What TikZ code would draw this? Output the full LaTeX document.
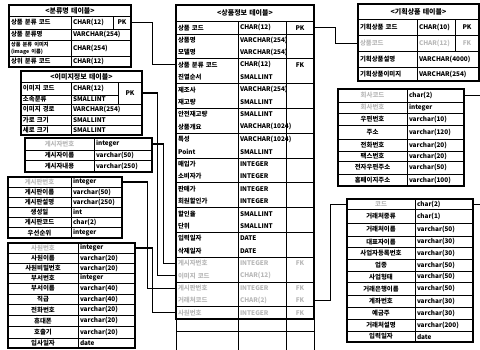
\documentclass[tikz,border=0pt]{standalone}
\usepackage{fontspec}
\setmainfont{Noto Sans CJK KR}
\newcommand\fnt[1]{\textcolor{gray!55}{#1}}
\newcommand\tcell[7]{%
  \pgfmathsetmacro\tcw{#4-#2-4}\pgfmathsetmacro\tch{#5-#3}%
  \node[cell, text width=\tcw pt, align=#6, minimum height=\tch pt] (#1) at ({(#2+#4)/2},{(#3+#5)/2}) {#7};}
\tikzset{
  cell/.style={draw, line width=0.8pt, inner xsep=2pt, inner ysep=0pt, font=\fontsize{6.4}{7}\selectfont\bfseries},
  frame/.style={draw, line width=1.5pt},
  conn/.style={draw, line width=1.1pt}
}
\begin{document}
\begin{tikzpicture}[x=1pt, y=-1pt]
\useasboundingbox (0,0) rectangle (480,349);
\fill[white] (0,0) rectangle (480,349);

% ---------- T1 <분류명 테이블>
\tcell{t1t}{9}{5}{131}{16}{center}{\fontsize{7}{8}\selectfont <분류명 테이블>}
\tcell{t1l1}{9}{16}{71}{29}{left}{상품 분류 코드}
\tcell{t1y1}{71}{16}{113}{29}{left}{CHAR(12)}
\tcell{t1k1}{113}{16}{131}{29}{center}{PK}
\tcell{t1l2}{9}{29}{71}{40}{left}{상품 분류명}
\tcell{t1y2}{71}{29}{131}{40}{left}{VARCHAR(254)}
\tcell{t1l3}{9}{40}{71}{56}{left}{\fontsize{5.2}{5.8}\selectfont 상품 분류 이미지\\(image 이름)}
\tcell{t1y3}{71}{40}{131}{56}{left}{CHAR(254)}
\tcell{t1l4}{9}{56}{71}{67}{left}{상위 분류 코드}
\tcell{t1y4}{71}{56}{131}{67}{left}{CHAR(12)}
\draw[frame] (9,5) rectangle (131,67);

% ---------- T2 <이미지정보 테이블>
\tcell{t2t}{21}{71}{142}{82}{center}{\fontsize{7}{8}\selectfont <이미지정보 테이블>}
\tcell{t2l1}{21}{82}{71}{95}{left}{이미지 코드}
\tcell{t2y1}{71}{82}{118}{95}{left}{CHAR(12)}
\tcell{t2l2}{21}{95}{71}{104}{left}{소속분류}
\tcell{t2y2}{71}{95}{118}{104}{left}{SMALLINT}
\tcell{t2k}{118}{82}{142}{104}{center}{PK}
\tcell{t2l3}{21}{104}{71}{115}{left}{이미지 경로}
\tcell{t2y3}{71}{104}{142}{115}{left}{VARCHAR(254)}
\tcell{t2l4}{21}{115}{71}{125}{left}{가로 크기}
\tcell{t2y4}{71}{115}{142}{125}{left}{SMALLINT}
\tcell{t2l5}{21}{125}{71}{135}{left}{세로 크기}
\tcell{t2y5}{71}{125}{142}{135}{left}{SMALLINT}
\draw[frame] (21,71) rectangle (142,135);

% ---------- T3
\foreach \n/\a/\b/\lab/\typ in {1/138/150/\fnt{게시자번호}/integer, 2/150/160.5/게시자이름/varchar(50), 3/160.5/172/게시자내용/varchar(250)}{
  \tcell{t3l\n}{25}{\a}{94}{\b}{center}{\lab}
  \tcell{t3y\n}{94}{\a}{152}{\b}{left}{\typ}
}
\draw[frame] (25,138) rectangle (152,172);

% ---------- T4
\foreach \n/\a/\b/\lab/\typ in {1/177/187/\fnt{게시판번호}/integer, 2/187/197/게시판이름/varchar(50), 3/197/207/게시판설명/varchar(250), 4/207/217.5/생성일/int, 5/217.5/227.5/게시판코드/char(2), 6/227.5/238/우선순위/integer}{
  \tcell{t4l\n}{8}{\a}{71}{\b}{center}{\lab}
  \tcell{t4y\n}{71}{\a}{122}{\b}{left}{\typ}
}
\draw[frame] (8,177) rectangle (122,238);

% ---------- T5
\foreach \n/\a/\b/\lab/\typ in {1/243/253/\fnt{사원번호}/integer, 2/253/263/사원이름/varchar(20), 3/263/273/사원비밀번호/varchar(20), 4/273/283/부서번호/integer, 5/283/294/부서이름/varchar(40), 6/294/304.5/직급/varchar(40), 7/304.5/315/전화번호/varchar(20), 8/315/326.5/휴대폰/varchar(20), 9/326.5/338/호출기/varchar(20), 10/338/348/입사일자/date}{
  \tcell{t5l\n}{8}{\a}{78}{\b}{center}{\lab}
  \tcell{t5y\n}{78}{\a}{135}{\b}{left}{\typ}
}
\draw[frame] (8,243) rectangle (135,348);

% ---------- Center <상품정보 테이블>
\tcell{ct}{176}{5}{314}{21.5}{center}{\fontsize{7}{8}\selectfont <상품정보 테이블>}
\foreach \i/\lab/\typ in {2/상품명/VARCHAR(254), 3/모델명/VARCHAR(254), 5/진열순서/SMALLINT, 6/제조사/VARCHAR(254), 7/재고량/SMALLINT, 8/안전재고량/SMALLINT, 9/상품개요/VARCHAR(1024), 10/특성/VARCHAR(1024), 11/Point/SMALLINT, 12/매입가/INTEGER, 13/소비자가/INTEGER, 14/판매가/INTEGER, 15/회원할인가/INTEGER, 16/할인율/SMALLINT, 17/단위/SMALLINT, 18/입력일자/DATE, 19/삭제일자/DATE}{
  \tcell{cl\i}{176}{21.5+(\i-1)*12.4}{238}{21.5+\i*12.4}{left}{\lab}
  \tcell{cy\i}{238}{21.5+(\i-1)*12.4}{314}{21.5+\i*12.4}{left}{\typ}
}
\foreach \i/\lab/\typ/\key in {1/상품 코드/CHAR(12)/PK, 4/상품 분류 코드/CHAR(12)/FK, 20/\fnt{게시자번호}/\fnt{INTEGER}/\fnt{FK}, 21/\fnt{이미지 코드}/\fnt{CHAR(12)}/{}, 22/\fnt{게시판번호}/\fnt{INTEGER}/\fnt{FK}, 23/\fnt{거래처코드}/\fnt{CHAR(2)}/\fnt{FK}, 24/\fnt{사원번호}/\fnt{INTEGER}/\fnt{FK}}{
  \tcell{cl\i}{176}{21.5+(\i-1)*12.4}{238}{21.5+\i*12.4}{left}{\lab}
  \tcell{cy\i}{238}{21.5+(\i-1)*12.4}{286}{21.5+\i*12.4}{left}{\typ}
  \tcell{ck\i}{286}{21.5+(\i-1)*12.4}{314}{21.5+\i*12.4}{center}{\key}
}
\draw[frame] (176,5) rectangle (314,319.1);

% ---------- R1 <기획상품 테이블>
\tcell{r1t}{358}{4}{479}{19}{center}{\fontsize{7}{8}\selectfont <기획상품 테이블>}
\tcell{r1l1}{358}{19}{417}{35.5}{left}{기획상품 코드}
\tcell{r1y1}{417}{19}{455}{35.5}{left}{CHAR(10)}
\tcell{r1k1}{455}{19}{479}{35.5}{center}{PK}
\tcell{r1l2}{358}{35.5}{417}{51}{left}{\fnt{상품코드}}
\tcell{r1y2}{417}{35.5}{455}{51}{left}{\fnt{CHAR(12)}}
\tcell{r1k2}{455}{35.5}{479}{51}{center}{\fnt{FK}}
\tcell{r1l3}{358}{51}{417}{67}{left}{기획상품설명}
\tcell{r1y3}{417}{51}{479}{67}{left}{VARCHAR(4000)}
\tcell{r1l4}{358}{67}{417}{81}{left}{기획상품이미지}
\tcell{r1y4}{417}{67}{479}{81}{left}{VARCHAR(254)}
\draw[frame] (358,4) rectangle (479,81);

% ---------- R2
\foreach \n/\a/\b/\lab/\typ in {1/89/102/\fnt{회사코드}/char(2), 2/102/113/\fnt{회사번호}/integer, 3/113/125.5/우편번호/varchar(10), 4/125.5/139/주소/varchar(120), 5/139/151/전화번호/varchar(20), 6/151/161/팩스번호/varchar(20), 7/161/174/전자우편주소/varchar(50), 8/174/186/홈페이지주소/varchar(100)}{
  \tcell{r2l\n}{338}{\a}{407}{\b}{center}{\lab}
  \tcell{r2y\n}{407}{\a}{464}{\b}{left}{\typ}
}
\draw[frame] (338,89) rectangle (464,186);

% ---------- R3
\foreach \n/\a/\b/\lab/\typ in {1/199/209.5/\fnt{코드}/char(2), 2/209.5/223/거래처종류/char(1), 3/223/236/거래처이름/varchar(50), 4/236/247.5/대표자이름/varchar(30), 5/247.5/259/사업자등록번호/varchar(30), 6/259/271/업종/varchar(50), 7/271/282.5/사업형태/varchar(50), 8/282.5/295/거래은행이름/varchar(50), 9/295/307.5/계좌번호/varchar(30), 10/307.5/319/예금주/varchar(30), 11/319/331/거래처설명/varchar(200), 12/331/342/입력일자/date}{
  \tcell{r3l\n}{347}{\a}{415}{\b}{center}{\lab}
  \tcell{r3y\n}{415}{\a}{473}{\b}{left}{\typ}
}
\draw[frame] (347,199) rectangle (473,342);

% ---------- connectors
\coordinate (r2end) at (480,95.5);
\coordinate (r3end) at (480,204.25);
\draw[conn] (t1k1.east) -- ++(21,0) |- (cl4.west);
\draw[conn] (ck1.east) -- ++(21,0) |- (r1l2.west);
\draw[conn] (r2y1.east) -- (r2end);
\draw[conn] (r3y1.east) -- (r3end);
\draw[conn] (ck23.east) -- ++(16,0) |- (r3l1.west);
\draw[conn] (t2k.east) -- ++(15,0) |- (cl21.west);
\draw[conn] (t3y1.east) -- ++(11,0) |- (cl20.west);
\draw[conn] (t4y1.east) -- ++(25,0) |- (cl22.west);
\draw[conn] (t5y1.east) -- ++(17,0) |- (cl24.west);
\end{tikzpicture}
\end{document}
